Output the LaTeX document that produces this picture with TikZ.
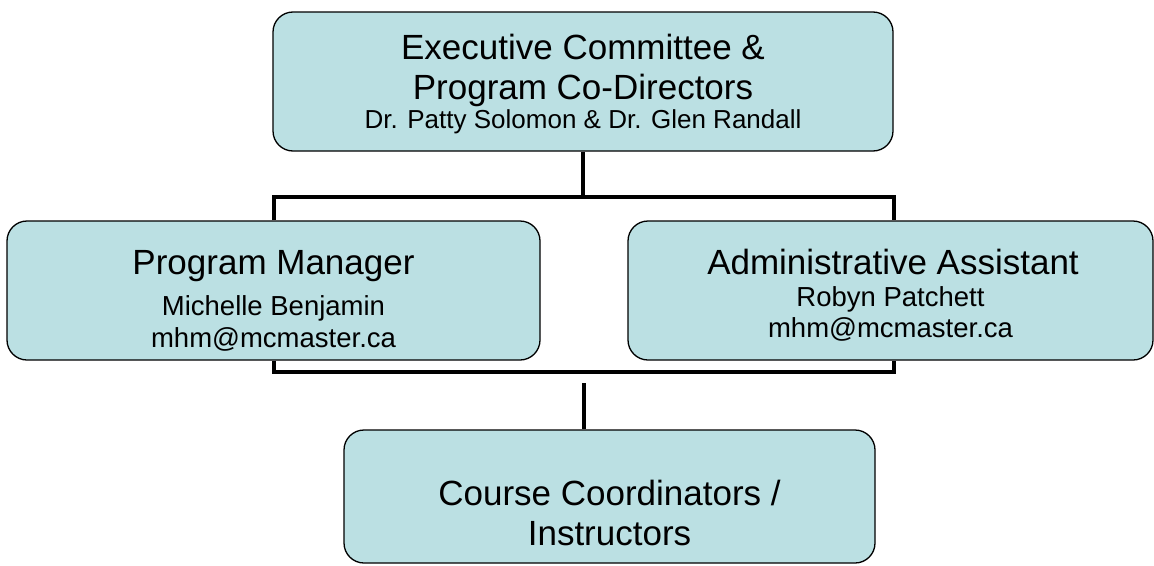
\documentclass[tikz,border=0pt]{standalone}
\usepackage{fontspec}
\setmainfont{Liberation Sans}
\definecolor{boxfill}{RGB}{187,224,227}
\newcommand{\bigf}{\fontsize{35}{40}\selectfont}
\newcommand{\subf}{\fontsize{27.5}{31}\selectfont}
\newcommand{\topsubf}{\fontsize{26}{31}\selectfont}
\tikzset{
  orgbox/.style={draw=black, line width=1.3pt, fill=boxfill, rounded corners=20pt,
    inner sep=0pt},
  bigline/.style={anchor=base, inner sep=0pt, font=\bigf},
  subline/.style={anchor=base, inner sep=0pt, font=\subf},
  topsubline/.style={anchor=base, inner sep=0pt, font=\topsubf},
  link/.style={draw=black, line width=4.6pt, line join=miter}
}
\begin{document}
\begin{tikzpicture}[x=1pt,y=-1pt]
\useasboundingbox (0,0) rectangle (1154,565);
% boxes
\node[orgbox, minimum width=620pt, minimum height=139pt] (top) at (583,81.5) {};
\node[orgbox, minimum width=533pt, minimum height=139pt] (left) at (273.5,290.5) {};
\node[orgbox, minimum width=525pt, minimum height=139pt] (right) at (890.5,290.5) {};
\node[orgbox, minimum width=531pt, minimum height=133pt] (bottom) at (609.5,496.5) {};
% texts
\node[bigline] (top1) at (583,59) {Executive Committee \&};
\node[bigline] (top2) at (583,99) {Program Co-Directors};
\node[topsubline] (top3) at (583,128) {Dr. Patty Solomon \& Dr. Glen Randall};
\node[bigline] (left1) at (273.5,274) {Program Manager};
\node[subline] (left2) at (273.5,315) {Michelle Benjamin};
\node[subline] (left3) at (273.5,347) {mhm@mcmaster.ca};
\node[bigline] (right1) at (893,274) {Administrative Assistant};
\node[subline] (right2) at (890.5,306) {Robyn Patchett};
\node[subline] (right3) at (890.5,337) {mhm@mcmaster.ca};
\node[bigline] (bot1) at (609.5,505) {Course Coordinators /};
\node[bigline] (bot2) at (609.5,545) {Instructors};
% connectors
\coordinate (tl) at (274,197);
\coordinate (tr) at (894,197);
\coordinate (bl) at (274,372);
\coordinate (br) at (894,372);
\coordinate (vs) at (584,383);
\draw[link] (top.south) -- (top.south |- tl);
\draw[link] (left.north -| tl) -- (tl) -- (tr) -- (right.north -| tr);
\draw[link] (left.south -| bl) -- (bl) -- (br) -- (right.south -| br);
\draw[link] (vs) -- (bottom.north -| vs);
\end{tikzpicture}
\end{document}
